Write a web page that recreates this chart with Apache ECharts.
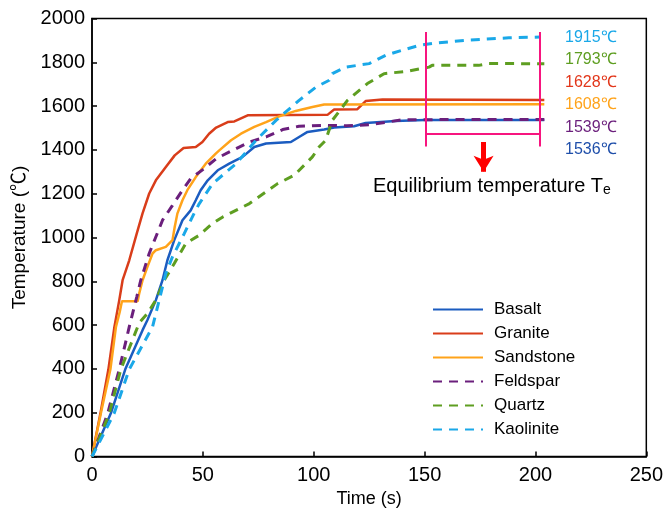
<!DOCTYPE html>
<html>
<head>
<meta charset="utf-8">
<script src="https://cdn.jsdelivr.net/npm/echarts@6/dist/echarts.min.js"></script>
<style>
  html, body { margin: 0; padding: 0; background: #fff; }
  #chart { width: 666px; height: 516px; }
</style>
</head>
<body>
<div id="chart"></div>
<script>
// [time s, temperature ℃]
const basalt = [[0,0],[8.5,197],[15,398],[22.8,577],[25,623],[28.8,714],[31.8,805],[34,896],[37.1,988],[40.8,1079],[44.5,1124],[46.8,1170],[49,1216],[52.2,1261],[56.7,1307],[61.9,1337],[67.9,1368],[73.2,1413],[78.5,1429],[89.7,1436],[93.4,1459],[97.2,1482],[104.7,1493],[109.2,1502],[118.2,1508],[123.4,1523],[136.9,1532],[150,1536],[204,1536]];
const granite = [[0,0],[3.8,197],[7.4,398],[10.1,592],[12.3,714],[13.8,805],[16.8,896],[20.2,1019],[22.8,1110],[25.8,1201],[28.8,1261],[33.3,1322],[37.3,1375],[41.3,1409],[46.8,1413],[49.8,1436],[52.8,1474],[56,1502],[61.2,1527],[64.2,1530],[70.2,1558],[106.2,1560],[109.2,1584],[119.7,1586],[123.4,1623],[131,1630],[204,1628]];
const sandstone = [[0,0],[4,197],[8.3,398],[10.8,592],[12.5,660],[13.5,709],[20.6,709],[21.3,745],[22.8,805],[25,866],[27.3,927],[28.8,942],[33.3,957],[36.3,988],[37.3,1048],[38.5,1109],[40.8,1170],[43,1216],[46.8,1276],[51.3,1337],[55.8,1383],[57.4,1398],[62.7,1444],[67.2,1474],[73.2,1505],[78.5,1527],[84.4,1553],[91.9,1578],[99.4,1596],[104.7,1607],[204,1608]];
const feldspar = [[0,0],[7.1,197],[12.3,398],[16.8,592],[20.2,729],[22,805],[25.8,927],[31.8,1079],[36.3,1147],[40.8,1216],[44.5,1269],[50,1310],[56,1360],[63.4,1398],[71,1436],[78.5,1459],[86,1493],[93.4,1508],[105,1512],[115,1510],[125,1515],[135,1530],[140,1538],[204,1539]];
const quartz = [[0,0],[7.8,197],[13,398],[21.3,610],[25,653],[28.8,714],[32.6,805],[37.1,881],[42.3,973],[48.3,1010],[54.3,1064],[59,1094],[71,1155],[83.7,1246],[91.2,1284],[99.4,1368],[102.4,1413],[105.4,1444],[108.4,1535],[115.2,1626],[124.2,1703],[131.7,1748],[142.2,1759],[152,1778],[153.4,1786],[174.4,1786],[179,1795],[204,1793]];
const kaolinite = [[0,0],[10,197],[16.8,398],[27.3,592],[30.3,714],[33.3,836],[36.3,912],[41.6,1018],[46,1109],[48.4,1155],[54.4,1246],[65,1337],[74,1444],[83,1535],[93.4,1626],[101,1687],[107,1718],[108.4,1748],[114.4,1778],[125,1794],[132.4,1832],[139.9,1855],[147.4,1877],[155,1888],[168.4,1900],[188,1912],[202,1915]];

const names = ['Basalt', 'Granite', 'Sandstone', 'Feldspar', 'Quartz', 'Kaolinite'];
const colors = ['#1b5cc0', '#d93d1a', '#ffa31a', '#6b1f7c', '#5e9e21', '#1aa8e8'];
const dashed = [false, false, false, true, true, true];
const curves = [basalt, granite, sandstone, feldspar, quartz, kaolinite];

// equilibrium labels, top to bottom
const eqValues = [1915, 1793, 1628, 1608, 1539, 1536];
const eqColors = ['#1aa8e8', '#5e9e21', '#e2361a', '#ffa31a', '#6b1f7c', '#1f4faa'];

// bracket marking the equilibrium window
const eqStart = 150.5, eqEnd = 202;
const bracketLow = 1416, bracketHigh = 1938, bracketY = 1474;
const arrowX = 176.6, arrowFrom = 1436, arrowTo = 1300;

const font = "'Liberation Sans', Arial, sans-serif";
const pink = '#f7157f';

const chart = echarts.init(document.getElementById('chart'));

const series = curves.map((d, i) => ({
  name: names[i],
  type: 'line',
  data: d,
  symbol: 'none',
  z: 3,
  lineStyle: {
    color: colors[i],
    width: dashed[i] ? 3 : 2.5,
    type: dashed[i] ? [9, 7] : 'solid'
  },
  itemStyle: { color: colors[i] }
}));

series.push({
  type: 'line',
  data: [],
  markLine: {
    silent: true,
    symbol: 'none',
    label: { show: false },
    lineStyle: { color: pink, width: 2, type: 'solid' },
    data: [
      [{ coord: [eqStart, bracketLow] }, { coord: [eqStart, bracketHigh] }],
      [{ coord: [eqEnd, bracketLow] }, { coord: [eqEnd, bracketHigh] }],
      [{ coord: [eqStart, bracketY] }, { coord: [eqEnd, bracketY] }]
    ]
  }
});
series.push({
  type: 'line',
  data: [],
  markLine: {
    silent: true,
    symbol: ['none', 'arrow'],
    symbolSize: [15, 16],
    label: { show: false },
    lineStyle: { color: '#ff0000', width: 5, type: 'solid' },
    data: [[{ coord: [arrowX, arrowFrom] }, { coord: [arrowX, arrowTo] }]]
  }
});

const graphics = eqValues.map((v, i) => ({
  type: 'text',
  left: 565,
  top: 38.5 + i * 22.5 - 9,
  style: { text: v + '℃', fill: eqColors[i], font: '16px ' + font }
}));
graphics.push({
  type: 'text',
  left: 373,
  top: 176,
  style: {
    text: '{a|Equilibrium temperature T}{b|e}',
    rich: {
      a: { fontSize: 20, fontFamily: font, fill: '#000' },
      b: { fontSize: 14, fontFamily: font, fill: '#000', verticalAlign: 'bottom', padding: [9, 0, 0, 0] }
    }
  }
});

chart.setOption({
  animation: false,
  textStyle: { fontFamily: font },
  grid: {
    left: 92, right: 18, top: 18.5, bottom: 59.5,
    show: true, borderColor: '#000', borderWidth: 1.5
  },
  legend: {
    data: names,
    orient: 'vertical',
    left: 432,
    top: 301,
    padding: 0,
    itemWidth: 50,
    itemHeight: 14,
    itemGap: 7,
    itemStyle: { opacity: 0 },
    textStyle: { fontSize: 17, color: '#000', fontFamily: font, padding: [0, 0, 0, 6] }
  },
  xAxis: {
    type: 'value',
    min: 0, max: 250, interval: 50,
    name: 'Time (s)',
    nameLocation: 'middle',
    nameGap: 32,
    nameTextStyle: { fontSize: 18, color: '#000' },
    axisLine: { lineStyle: { color: '#000', width: 1.5 } },
    axisTick: { inside: true, length: 5, lineStyle: { color: '#000', width: 1.5 } },
    axisLabel: { fontSize: 20, color: '#000', margin: 9 },
    splitLine: { show: false }
  },
  yAxis: {
    type: 'value',
    min: 0, max: 2000, interval: 200,
    name: 'Temperature (℃)',
    nameLocation: 'middle',
    nameGap: 60,
    nameTextStyle: { fontSize: 19, color: '#000', fontFamily: "'Liberation Sans', 'Noto Sans CJK SC', sans-serif" },
    axisLine: { show: true, lineStyle: { color: '#000', width: 1.5 } },
    axisTick: { show: true, inside: true, length: 5, lineStyle: { color: '#000', width: 1.5 } },
    axisLabel: { fontSize: 20, color: '#000', margin: 7, formatter: v => String(v) },
    splitLine: { show: false }
  },
  graphic: graphics,
  series: series
});
</script>
</body>
</html>
